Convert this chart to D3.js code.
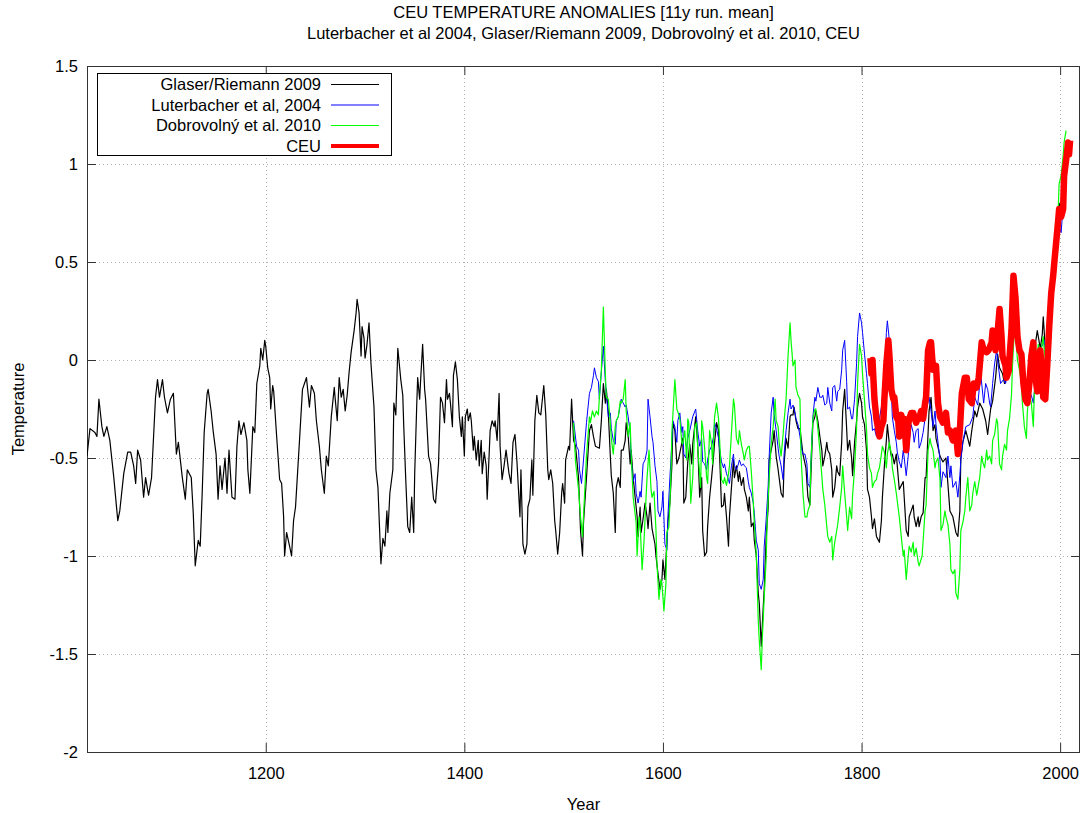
<!DOCTYPE html>
<html>
<head>
<meta charset="utf-8">
<script src="https://cdn.jsdelivr.net/npm/d3@7"></script>
<style>
  body { margin: 0; background: #fff; }
  svg { display: block; font-family: "Liberation Sans", Arial, sans-serif; }
  .tick text { font-size: 16.5px; fill: #000; }
</style>
</head>
<body>
<svg id="chart" width="1083" height="813"></svg>
<script>
// [year, anomaly]
const glaser = [
  [1020,-0.49],[1023,-0.35],[1028,-0.37],[1030,-0.39],[1032,-0.20],[1035,-0.34],[1037,-0.39],[1040,-0.34],
  [1043,-0.41],[1047,-0.60],[1051,-0.82],[1053,-0.77],[1057,-0.58],[1061,-0.47],[1064,-0.47],[1067,-0.54],
  [1069,-0.63],[1071,-0.46],[1074,-0.51],[1077,-0.70],[1079,-0.60],[1082,-0.69],[1085,-0.60],[1089,-0.19],
  [1091,-0.10],[1093,-0.19],[1096,-0.10],[1098,-0.19],[1101,-0.27],[1104,-0.20],[1107,-0.17],[1110,-0.48],
  [1112,-0.42],[1116,-0.60],[1119,-0.71],[1121,-0.56],[1125,-0.60],[1127,-0.78],[1129,-1.05],[1132,-0.92],
  [1134,-0.95],[1136,-0.68],[1138,-0.37],[1141,-0.17],[1142,-0.15],[1145,-0.26],[1147,-0.36],[1150,-0.48],
  [1152,-0.71],[1154,-0.54],[1156,-0.66],[1159,-0.50],[1161,-0.68],[1163,-0.46],[1166,-0.70],[1169,-0.71],
  [1171,-0.44],[1173,-0.31],[1175,-0.38],[1178,-0.32],[1181,-0.41],[1182,-0.56],[1184,-0.68],[1187,-0.34],
  [1189,-0.37],[1191,-0.12],[1194,-0.03],[1195,0.06],[1197,0.00],[1199,0.10],[1200,0.07],[1202,-0.04],
  [1204,-0.09],[1205,-0.25],[1207,-0.13],[1208,-0.16],[1211,-0.39],[1214,-0.61],[1216,-0.63],[1218,-0.80],
  [1219,-1.00],[1221,-0.88],[1224,-0.95],[1226,-1.00],[1228,-0.82],[1230,-0.75],[1234,-0.41],[1237,-0.15],
  [1239,-0.12],[1241,-0.09],[1244,-0.24],[1246,-0.13],[1249,-0.17],[1251,-0.31],[1254,-0.44],[1256,-0.56],
  [1259,-0.68],[1261,-0.49],[1263,-0.54],[1266,-0.29],[1269,-0.14],[1270,-0.20],[1272,-0.31],[1274,-0.09],
  [1276,-0.19],[1278,-0.15],[1280,-0.26],[1282,-0.18],[1284,-0.06],[1286,0.04],[1289,0.15],[1291,0.24],
  [1292,0.31],[1294,0.24],[1296,0.02],[1297,0.17],[1299,0.11],[1300,0.01],[1302,0.08],[1304,0.19],
  [1306,-0.02],[1309,-0.24],[1311,-0.56],[1313,-0.65],[1316,-1.04],[1318,-0.91],[1320,-0.95],[1322,-0.77],
  [1323,-0.88],[1325,-0.68],[1328,-0.56],[1329,-0.22],[1331,-0.28],[1333,0.06],[1336,-0.10],[1338,-0.18],
  [1339,-0.34],[1341,-0.61],[1343,-0.85],[1345,-0.88],[1347,-0.70],[1349,-0.88],[1350,-0.58],[1352,-0.24],
  [1353,-0.09],[1355,-0.20],[1356,-0.10],[1358,0.08],[1360,-0.15],[1361,-0.20],[1364,-0.49],[1366,-0.53],
  [1369,-0.71],[1371,-0.73],[1374,-0.53],[1376,-0.19],[1378,-0.22],[1380,-0.32],[1382,-0.10],[1383,-0.20],
  [1385,-0.17],[1386,-0.22],[1388,-0.34],[1389,-0.08],[1391,-0.01],[1393,-0.10],[1395,-0.29],[1397,-0.39],
  [1398,-0.29],[1400,-0.49],[1401,-0.29],[1403,-0.25],[1404,-0.31],[1406,-0.27],[1407,-0.31],[1409,-0.46],
  [1410,-0.39],[1412,-0.51],[1414,-0.41],[1415,-0.54],[1417,-0.41],[1418,-0.58],[1420,-0.47],[1422,-0.54],
  [1423,-0.71],[1425,-0.48],[1426,-0.36],[1428,-0.31],[1430,-0.34],[1431,-0.31],[1433,-0.41],[1435,-0.17],
  [1436,-0.44],[1438,-0.61],[1440,-0.54],[1442,-0.46],[1444,-0.54],[1445,-0.58],[1447,-0.63],[1449,-0.42],
  [1451,-0.38],[1453,-0.52],[1456,-0.80],[1457,-0.56],[1459,-0.94],[1461,-0.99],[1463,-0.94],[1464,-0.75],
  [1466,-0.71],[1468,-0.51],[1469,-0.69],[1471,-0.31],[1473,-0.18],[1475,-0.27],[1477,-0.28],[1479,-0.18],
  [1480,-0.13],[1482,-0.28],[1484,-0.56],[1485,-0.61],[1487,-0.56],[1489,-0.63],[1491,-0.82],[1492,-0.87],
  [1494,-0.99],[1496,-0.88],[1498,-0.68],[1499,-0.63],[1501,-0.73],[1502,-0.51],[1505,-0.44],[1506,-0.46],
  [1508,-0.20],[1510,-0.41],[1512,-0.44],[1515,-0.60],[1517,-0.87],[1519,-1.00],[1520,-0.83],[1523,-0.60],
  [1526,-0.36],[1528,-0.33],[1530,-0.39],[1532,-0.44],[1536,-0.45],[1538,-0.31],[1540,-0.12],[1542,-0.22],
  [1543,-0.15],[1545,-0.27],[1547,-0.49],[1548,-0.59],[1550,-0.68],[1552,-0.88],[1553,-0.65],[1555,-0.60],
  [1557,-0.65],[1558,-0.46],[1560,-0.46],[1562,-0.41],[1563,-0.32],[1565,-0.39],[1567,-0.53],[1568,-0.46],
  [1570,-0.60],[1572,-0.70],[1574,-0.80],[1575,-0.90],[1577,-0.75],[1578,-0.88],[1580,-0.81],[1582,-0.73],
  [1584,-0.80],[1585,-0.86],[1587,-0.73],[1589,-0.86],[1592,-0.94],[1593,-1.00],[1595,-1.09],[1597,-1.17],
  [1599,-1.12],[1600,-1.02],[1602,-1.12],[1604,-0.92],[1605,-0.83],[1607,-0.73],[1609,-0.54],[1610,-0.32],
  [1612,-0.36],[1614,-0.53],[1616,-0.50],[1618,-0.45],[1620,-0.40],[1621,-0.73],[1623,-0.70],[1625,-0.52],
  [1627,-0.43],[1629,-0.53],[1630,-0.43],[1633,-0.29],[1635,-0.43],[1637,-0.70],[1639,-0.60],[1640,-0.87],
  [1642,-1.00],[1644,-0.98],[1645,-0.85],[1647,-0.70],[1649,-0.60],[1651,-0.49],[1652,-0.42],[1654,-0.32],
  [1656,-0.36],[1657,-0.48],[1659,-0.75],[1661,-0.74],[1662,-0.68],[1664,-0.80],[1666,-0.95],[1667,-0.80],
  [1669,-0.65],[1671,-0.51],[1672,-0.60],[1674,-0.54],[1676,-0.62],[1677,-0.57],[1679,-0.64],[1681,-0.60],
  [1682,-0.66],[1684,-0.70],[1686,-0.77],[1687,-0.70],[1689,-0.85],[1691,-0.83],[1692,-0.92],[1694,-1.00],
  [1696,-1.19],[1697,-1.24],[1699,-1.46],[1701,-1.26],[1702,-1.17],[1704,-0.90],[1706,-0.75],[1707,-0.51],
  [1709,-0.46],[1711,-0.41],[1712,-0.36],[1714,-0.49],[1716,-0.56],[1717,-0.60],[1719,-0.68],[1721,-0.70],
  [1722,-0.53],[1724,-0.40],[1726,-0.45],[1728,-0.29],[1729,-0.28],[1731,-0.28],[1732,-0.24],[1734,-0.31],
  [1736,-0.35],[1738,-0.35],[1741,-0.48],[1744,-0.55],[1746,-0.70],[1748,-0.74],[1749,-0.59],[1751,-0.32],
  [1753,-0.29],[1754,-0.26],[1756,-0.31],[1758,-0.39],[1760,-0.46],[1761,-0.54],[1763,-0.49],[1765,-0.42],
  [1766,-0.46],[1768,-0.48],[1770,-0.56],[1771,-0.70],[1773,-0.65],[1775,-0.54],[1776,-0.57],[1778,-0.59],
  [1780,-0.42],[1781,-0.26],[1783,-0.15],[1785,-0.35],[1786,-0.46],[1788,-0.41],[1790,-0.50],[1791,-0.59],
  [1793,-0.42],[1795,-0.31],[1796,-0.24],[1798,-0.17],[1800,-0.22],[1801,-0.29],[1803,-0.33],[1805,-0.46],
  [1806,-0.66],[1808,-0.70],[1810,-0.80],[1811,-0.86],[1813,-0.81],[1815,-0.90],[1816,-0.91],[1818,-0.93],
  [1820,-0.82],[1821,-0.70],[1823,-0.54],[1825,-0.41],[1826,-0.33],[1828,-0.43],[1830,-0.49],[1831,-0.48],
  [1833,-0.53],[1835,-0.48],[1836,-0.54],[1838,-0.66],[1842,-0.62],[1845,-0.87],[1847,-0.90],[1848,-0.80],
  [1850,-0.77],[1852,-0.74],[1853,-0.80],[1855,-0.85],[1857,-0.80],[1858,-0.85],[1860,-0.80],[1862,-0.78],
  [1864,-0.60],[1865,-0.60],[1868,-0.26],[1870,-0.19],[1872,-0.36],[1874,-0.33],[1875,-0.40],[1879,-0.49],
  [1882,-0.52],[1885,-0.50],[1889,-0.77],[1892,-0.80],[1895,-0.88],[1897,-0.90],[1899,-0.77],[1900,-0.50],
  [1902,-0.42],[1905,-0.36],[1909,-0.44],[1911,-0.36],[1914,-0.26],[1916,-0.29],[1919,-0.22],[1922,-0.25],
  [1925,-0.31],[1927,-0.38],[1930,-0.25],[1932,-0.21],[1935,-0.09],[1937,0.03],[1939,-0.04],[1942,-0.07],
  [1944,-0.12],[1946,-0.09],[1948,-0.08],[1951,-0.05],[1953,0.15],[1956,0.12],[1959,0.05],[1962,-0.03],
  [1966,-0.16],[1969,-0.14],[1972,-0.07],[1975,0.08],[1977,0.15],[1980,0.06],[1982,0.13],[1983,0.22],
  [1985,0.06],[1988,-0.05],[1990,0.17],[1993,0.43],[1995,0.60],[1998,0.76],[1999,0.80],[2001,0.73],
  [2003,0.87],[2004,0.92],[2005,0.95]
];

const luterbacher = [
  [1510,-0.31],[1513,-0.44],[1515,-0.46],[1516,-0.56],[1518,-0.63],[1520,-0.51],[1523,-0.32],[1526,-0.17],
  [1528,-0.14],[1530,-0.08],[1531,-0.04],[1533,-0.09],[1535,-0.11],[1536,-0.20],[1538,-0.06],[1540,0.07],
  [1542,-0.11],[1543,-0.17],[1545,-0.29],[1547,-0.27],[1548,-0.35],[1550,-0.41],[1552,-0.43],[1553,-0.31],
  [1555,-0.29],[1556,-0.26],[1558,-0.20],[1560,-0.22],[1562,-0.24],[1563,-0.23],[1565,-0.29],[1567,-0.37],
  [1568,-0.50],[1570,-0.62],[1572,-0.58],[1573,-0.68],[1575,-0.73],[1577,-0.67],[1578,-0.70],[1580,-0.53],
  [1582,-0.51],[1584,-0.46],[1585,-0.20],[1587,-0.29],[1589,-0.39],[1590,-0.42],[1592,-0.54],[1594,-0.62],
  [1595,-0.77],[1597,-0.80],[1599,-0.75],[1600,-0.67],[1602,-0.94],[1604,-0.97],[1605,-0.80],[1607,-0.60],
  [1609,-0.42],[1610,-0.31],[1612,-0.34],[1614,-0.42],[1615,-0.31],[1617,-0.27],[1619,-0.37],[1620,-0.34],
  [1621,-0.48],[1623,-0.50],[1625,-0.40],[1627,-0.36],[1630,-0.29],[1633,-0.25],[1635,-0.36],[1637,-0.44],
  [1639,-0.40],[1640,-0.52],[1642,-0.53],[1644,-0.56],[1645,-0.51],[1647,-0.46],[1649,-0.44],[1651,-0.39],
  [1652,-0.32],[1654,-0.35],[1656,-0.40],[1657,-0.45],[1659,-0.52],[1661,-0.55],[1662,-0.53],[1664,-0.58],
  [1666,-0.61],[1667,-0.63],[1669,-0.54],[1671,-0.48],[1672,-0.54],[1674,-0.56],[1676,-0.53],[1677,-0.51],
  [1679,-0.54],[1681,-0.53],[1682,-0.54],[1684,-0.55],[1686,-0.62],[1687,-0.65],[1689,-0.68],[1691,-0.73],
  [1692,-0.78],[1694,-0.92],[1696,-0.97],[1697,-1.14],[1699,-1.17],[1701,-1.12],[1702,-0.95],[1704,-0.81],
  [1706,-0.64],[1707,-0.49],[1709,-0.27],[1711,-0.19],[1712,-0.28],[1714,-0.36],[1716,-0.45],[1717,-0.49],
  [1719,-0.54],[1721,-0.61],[1722,-0.48],[1724,-0.36],[1726,-0.27],[1728,-0.20],[1729,-0.25],[1731,-0.23],
  [1733,-0.27],[1734,-0.30],[1736,-0.33],[1738,-0.39],[1740,-0.46],[1741,-0.48],[1743,-0.48],[1745,-0.53],
  [1746,-0.63],[1748,-0.65],[1749,-0.52],[1751,-0.29],[1753,-0.19],[1754,-0.21],[1756,-0.14],[1758,-0.19],
  [1760,-0.19],[1761,-0.18],[1763,-0.23],[1765,-0.22],[1766,-0.14],[1768,-0.22],[1770,-0.26],[1771,-0.14],
  [1773,-0.13],[1775,-0.21],[1776,-0.16],[1778,-0.15],[1780,-0.05],[1781,0.05],[1783,0.10],[1785,-0.11],
  [1786,-0.25],[1788,-0.24],[1790,-0.30],[1791,-0.30],[1793,-0.20],[1795,-0.02],[1796,0.12],[1798,0.24],
  [1800,0.19],[1801,0.14],[1803,0.03],[1805,-0.07],[1806,-0.12],[1808,-0.24],[1810,-0.29],[1811,-0.36],
  [1813,-0.35],[1815,-0.39],[1816,-0.34],[1818,-0.30],[1820,-0.24],[1821,-0.19],[1823,-0.11],[1825,0.14],
  [1826,0.20],[1828,0.10],[1830,-0.15],[1831,-0.29],[1833,-0.36],[1835,-0.42],[1836,-0.47],[1838,-0.52],
  [1840,-0.55],[1842,-0.46],[1843,-0.50],[1845,-0.59],[1847,-0.49],[1848,-0.42],[1850,-0.33],[1852,-0.37],
  [1853,-0.42],[1855,-0.36],[1857,-0.35],[1858,-0.45],[1860,-0.42],[1862,-0.37],[1865,-0.26],[1868,-0.19],
  [1870,-0.26],[1872,-0.34],[1874,-0.26],[1875,-0.33],[1879,-0.51],[1880,-0.65],[1882,-0.57],[1885,-0.60],
  [1887,-0.49],[1889,-0.60],[1890,-0.54],[1892,-0.65],[1895,-0.62],[1897,-0.70],[1899,-0.59],[1900,-0.51],
  [1902,-0.42],[1905,-0.34],[1909,-0.33],[1912,-0.29],[1914,-0.19],[1917,-0.23],[1920,-0.07],[1923,-0.22],
  [1925,-0.12],[1927,-0.15],[1929,-0.22],[1930,-0.24],[1932,-0.12],[1934,-0.02],[1936,0.05],[1938,-0.04],
  [1940,-0.12],[1943,-0.10],[1945,-0.12],[1948,-0.05],[1950,0.02],[1953,0.22],[1955,0.12],[1957,0.08],
  [1959,0.07],[1963,-0.05],[1967,-0.15],[1971,-0.18],[1973,-0.22],[1976,-0.05],[1980,0.05],[1984,0.10],
  [1987,-0.02],[1990,0.15],[1993,0.40],[1996,0.58],[1998,0.70],[2001,0.65],[2002,0.72]
];

const dobrovolny = [
  [1510,-0.32],[1512,-0.52],[1515,-0.66],[1517,-0.80],[1519,-0.90],[1520,-0.80],[1523,-0.49],[1526,-0.29],
  [1527,-0.32],[1529,-0.26],[1531,-0.29],[1533,-0.26],[1535,-0.28],[1536,-0.19],[1538,-0.05],[1540,0.27],
  [1542,-0.07],[1543,-0.19],[1545,-0.20],[1547,-0.32],[1548,-0.40],[1550,-0.48],[1552,-0.34],[1553,-0.31],
  [1555,-0.29],[1557,-0.21],[1558,-0.22],[1560,-0.20],[1562,-0.10],[1563,-0.26],[1565,-0.39],[1567,-0.32],
  [1568,-0.48],[1570,-0.70],[1573,-0.83],[1574,-1.00],[1576,-0.80],[1577,-0.83],[1579,-1.07],[1581,-0.92],
  [1583,-0.70],[1584,-0.60],[1586,-0.46],[1588,-0.66],[1589,-0.70],[1591,-0.67],[1593,-0.87],[1594,-1.04],
  [1596,-1.22],[1598,-1.12],[1599,-1.14],[1601,-1.28],[1603,-1.14],[1604,-0.88],[1606,-0.85],[1608,-0.60],
  [1609,-0.37],[1611,-0.19],[1612,-0.10],[1614,-0.25],[1616,-0.28],[1617,-0.30],[1619,-0.42],[1620,-0.43],
  [1622,-0.36],[1624,-0.51],[1625,-0.30],[1626,-0.32],[1628,-0.73],[1630,-0.60],[1632,-0.34],[1634,-0.32],
  [1635,-0.45],[1638,-0.65],[1639,-0.31],[1640,-0.34],[1642,-0.45],[1644,-0.60],[1645,-0.63],[1647,-0.36],
  [1649,-0.43],[1650,-0.53],[1652,-0.29],[1654,-0.22],[1656,-0.30],[1657,-0.40],[1659,-0.61],[1661,-0.63],
  [1662,-0.60],[1664,-0.64],[1666,-0.58],[1667,-0.54],[1669,-0.37],[1671,-0.20],[1672,-0.23],[1674,-0.40],
  [1676,-0.43],[1677,-0.36],[1679,-0.43],[1681,-0.48],[1682,-0.51],[1684,-0.46],[1686,-0.44],[1687,-0.44],
  [1689,-0.57],[1691,-0.73],[1692,-0.83],[1694,-0.99],[1696,-1.33],[1697,-1.43],[1699,-1.58],[1700,-1.43],
  [1702,-1.21],[1704,-1.01],[1705,-0.81],[1707,-0.60],[1709,-0.43],[1711,-0.34],[1713,-0.20],[1714,-0.31],
  [1716,-0.34],[1717,-0.42],[1719,-0.49],[1721,-0.38],[1722,-0.31],[1724,-0.20],[1726,0.02],[1728,0.19],
  [1729,0.10],[1731,-0.03],[1733,0.00],[1734,-0.14],[1736,-0.18],[1738,-0.20],[1739,-0.48],[1741,-0.68],
  [1743,-0.80],[1745,-0.80],[1746,-0.77],[1748,-0.74],[1749,-0.53],[1751,-0.30],[1753,-0.25],[1754,-0.25],
  [1756,-0.35],[1758,-0.46],[1760,-0.59],[1761,-0.66],[1763,-0.74],[1765,-0.85],[1766,-0.90],[1768,-0.93],
  [1770,-0.90],[1771,-1.02],[1773,-0.93],[1775,-0.87],[1776,-0.84],[1778,-0.75],[1780,-0.65],[1781,-0.54],
  [1783,-0.68],[1785,-0.80],[1786,-0.87],[1788,-0.75],[1790,-0.81],[1791,-0.69],[1793,-0.55],[1795,-0.35],
  [1796,-0.12],[1798,0.08],[1800,0.02],[1801,-0.07],[1803,-0.21],[1805,-0.35],[1806,-0.48],[1808,-0.55],
  [1810,-0.58],[1811,-0.65],[1813,-0.62],[1815,-0.61],[1816,-0.58],[1818,-0.55],[1820,-0.48],[1821,-0.44],
  [1823,-0.47],[1825,-0.55],[1826,-0.48],[1828,-0.42],[1830,-0.48],[1831,-0.55],[1833,-0.61],[1835,-0.68],
  [1836,-0.72],[1838,-0.80],[1840,-0.90],[1842,-1.00],[1843,-0.97],[1845,-1.12],[1847,-1.00],[1848,-0.95],
  [1850,-0.98],[1852,-0.93],[1853,-1.00],[1855,-0.96],[1857,-1.03],[1858,-1.05],[1861,-1.00],[1864,-0.77],
  [1865,-0.74],[1867,-0.46],[1869,-0.40],[1870,-0.43],[1872,-0.46],[1874,-0.55],[1875,-0.52],[1877,-0.50],
  [1879,-0.61],[1880,-0.87],[1882,-0.84],[1884,-0.77],[1885,-0.80],[1887,-0.84],[1889,-0.94],[1890,-1.07],
  [1892,-1.09],[1894,-1.07],[1895,-1.19],[1897,-1.22],[1899,-1.07],[1900,-0.87],[1902,-0.83],[1904,-0.77],
  [1905,-0.70],[1907,-0.60],[1909,-0.77],[1911,-0.74],[1912,-0.68],[1914,-0.62],[1916,-0.69],[1917,-0.66],
  [1919,-0.60],[1921,-0.49],[1922,-0.52],[1924,-0.55],[1926,-0.46],[1927,-0.51],[1929,-0.49],[1931,-0.53],
  [1932,-0.41],[1934,-0.38],[1936,-0.30],[1937,-0.32],[1939,-0.53],[1941,-0.56],[1942,-0.49],[1944,-0.43],
  [1946,-0.46],[1947,-0.36],[1949,-0.30],[1951,-0.18],[1952,-0.03],[1954,0.17],[1956,0.08],[1957,0.00],
  [1959,-0.05],[1961,-0.12],[1962,-0.22],[1964,-0.34],[1966,-0.40],[1967,-0.26],[1969,-0.17],[1971,-0.22],
  [1973,-0.34],[1974,-0.17],[1976,-0.05],[1978,0.08],[1979,0.02],[1981,0.05],[1983,0.12],[1984,0.05],
  [1986,-0.03],[1988,0.05],[1989,0.20],[1991,0.30],[1993,0.45],[1994,0.54],[1996,0.63],[1998,0.76],
  [1999,0.90],[2001,0.94],[2003,1.04],[2004,1.11],[2006,1.17]
];

const ceu = [
  [1809,0.01],[1810,-0.07],[1811,0.00],[1813,-0.20],[1815,-0.30],[1818,-0.39],[1820,-0.34],[1822,-0.31],
  [1823,-0.20],[1825,-0.02],[1827,0.10],[1828,0.03],[1830,-0.15],[1832,-0.20],[1833,-0.19],[1835,-0.29],
  [1837,-0.31],[1838,-0.39],[1840,-0.28],[1842,-0.34],[1843,-0.30],[1845,-0.46],[1847,-0.33],[1848,-0.30],
  [1850,-0.27],[1852,-0.27],[1853,-0.29],[1855,-0.32],[1857,-0.29],[1858,-0.30],[1860,-0.26],[1862,-0.30],
  [1864,-0.22],[1865,-0.19],[1867,0.05],[1869,0.09],[1870,0.09],[1872,-0.05],[1875,-0.03],[1877,-0.22],
  [1879,-0.29],[1882,-0.32],[1885,-0.27],[1887,-0.37],[1889,-0.36],[1892,-0.41],[1895,-0.36],[1897,-0.48],
  [1899,-0.36],[1901,-0.17],[1904,-0.09],[1906,-0.09],[1908,-0.20],[1911,-0.22],[1913,-0.12],[1916,-0.14],
  [1918,-0.09],[1921,0.09],[1923,0.05],[1926,0.04],[1928,0.05],[1931,0.09],[1932,0.15],[1935,0.05],
  [1937,0.14],[1939,0.26],[1941,0.12],[1942,0.02],[1945,-0.03],[1946,-0.09],[1948,-0.06],[1951,0.15],
  [1953,0.43],[1955,0.32],[1957,0.12],[1959,0.05],[1961,0.03],[1963,-0.12],[1965,-0.20],[1967,-0.22],
  [1969,-0.12],[1971,0.02],[1973,0.09],[1974,-0.05],[1977,-0.16],[1978,-0.03],[1980,0.05],[1982,-0.08],
  [1983,-0.19],[1985,-0.20],[1987,-0.03],[1989,0.17],[1991,0.34],[1993,0.43],[1994,0.49],[1996,0.60],
  [1998,0.71],[1999,0.77],[2001,0.73],[2003,0.77],[2004,0.94],[2006,1.02],[2008,1.11],[2009,1.05],[2010,1.12]
];

const series = [
  { name: "Glaser/Riemann 2009", data: glaser, color: "#000000", width: 1.2, key: 1 },
  { name: "Luterbacher et al, 2004", data: luterbacher, color: "#0000ff", width: 1, key: 1 },
  { name: "Dobrovolný et al. 2010", data: dobrovolny, color: "#00ff00", width: 1.2, key: 1.2 },
  { name: "CEU", data: ceu, color: "#ff0000", width: 6.5, key: 4 }
];

const xTicks = [1200, 1400, 1600, 1800, 2000];
const yTicks = [-2, -1.5, -1, -0.5, 0, 0.5, 1, 1.5];
const titleLines = ["CEU TEMPERATURE ANOMALIES [11y run. mean]",
  "Luterbacher et al 2004, Glaser/Riemann 2009, Dobrovolný et al. 2010, CEU"];

const plot = { left: 87, right: 1080, top: 66, bottom: 752 };

const svg = d3.select("#chart");

const x = d3.scaleLinear().domain([1020, 2020]).range([plot.left, plot.right]);
const y = d3.scaleLinear().domain([-2, 1.5]).range([plot.bottom, plot.top]);

// dotted grid
const grid = svg.append("g").attr("stroke", "#b0b0b0").attr("stroke-dasharray", "1,3").attr("stroke-width", 1);
grid.selectAll("line.gy").data(yTicks.filter(d => d > -2 && d < 1.5)).enter().append("line")
  .attr("x1", plot.left).attr("x2", plot.right)
  .attr("y1", d => Math.round(y(d)) + 0.5).attr("y2", d => Math.round(y(d)) + 0.5);
grid.selectAll("line.gx").data(xTicks).enter().append("line")
  .attr("y1", plot.top).attr("y2", plot.bottom)
  .attr("x1", d => Math.round(x(d)) + 0.5).attr("x2", d => Math.round(x(d)) + 0.5);

// axes, gnuplot style: ticks inside, mirrored
const fmt = d => String(d);
const gx = svg.append("g").attr("transform", `translate(0,${plot.bottom})`)
  .call(d3.axisBottom(x).tickValues(xTicks).tickFormat(fmt).tickSizeInner(-9).tickSizeOuter(0).tickPadding(15));
const gxTop = svg.append("g").attr("transform", `translate(0,${plot.top})`)
  .call(d3.axisTop(x).tickValues(xTicks).tickFormat("").tickSizeInner(-9).tickSizeOuter(0));
const gy = svg.append("g").attr("transform", `translate(${plot.left},0)`)
  .call(d3.axisLeft(y).tickValues(yTicks).tickFormat(fmt).tickSizeInner(-9).tickSizeOuter(0).tickPadding(9));
const gyRight = svg.append("g").attr("transform", `translate(${plot.right},0)`)
  .call(d3.axisRight(y).tickValues(yTicks).tickFormat("").tickSizeInner(-9).tickSizeOuter(0));
[gx, gxTop, gy, gyRight].forEach(g => {
  g.select(".domain").remove();
  g.selectAll(".tick line").attr("stroke", "#333");
  g.selectAll("text").style("font-family", "'Liberation Sans', Arial, sans-serif");
});

// border
svg.append("rect")
  .attr("x", plot.left + 0.5).attr("y", plot.top + 0.5)
  .attr("width", plot.right - plot.left - 1).attr("height", plot.bottom - plot.top)
  .attr("fill", "none").attr("stroke", "#333").attr("stroke-width", 1);

// series
svg.append("clipPath").attr("id", "clip").append("rect")
  .attr("x", plot.left).attr("y", plot.top)
  .attr("width", plot.right - plot.left).attr("height", plot.bottom - plot.top);

const line = d3.line().x(d => x(d[0])).y(d => y(d[1]));
svg.append("g").attr("clip-path", "url(#clip)")
  .selectAll("path").data(series).enter().append("path")
  .attr("d", d => line(d.data))
  .attr("fill", "none")
  .attr("stroke", d => d.color)
  .attr("stroke-width", d => d.width)
  .attr("stroke-linejoin", "round");

// titles
svg.append("g").selectAll("text").data(titleLines).enter().append("text")
  .attr("x", (plot.left + plot.right) / 2)
  .attr("y", (d, i) => 18 + i * 21)
  .attr("text-anchor", "middle")
  .style("font-size", "16.5px")
  .text(d => d);

svg.append("text")
  .attr("x", (plot.left + plot.right) / 2).attr("y", 810)
  .attr("text-anchor", "middle").style("font-size", "16.5px")
  .text("Year");

svg.append("text")
  .attr("transform", `translate(24,${(plot.top + plot.bottom) / 2}) rotate(-90)`)
  .attr("text-anchor", "middle").style("font-size", "16.5px")
  .text("Temperature");

// legend
const legend = svg.append("g");
legend.append("rect")
  .attr("x", 97.5).attr("y", 73.5).attr("width", 294).attr("height", 82)
  .attr("fill", "#fff").attr("stroke", "#000").attr("stroke-width", 1);
const rows = legend.selectAll("g.row").data(series).enter().append("g")
  .attr("transform", (d, i) => `translate(0,${84.5 + i * 20.5})`);
rows.append("text")
  .attr("x", 321).attr("dy", "0.35em").attr("text-anchor", "end")
  .style("font-size", "16.5px")
  .text(d => d.name);
rows.append("line")
  .attr("x1", 331).attr("x2", 379)
  .attr("stroke", d => d.color)
  .attr("stroke-width", d => d.key);
</script>
</body>
</html>
